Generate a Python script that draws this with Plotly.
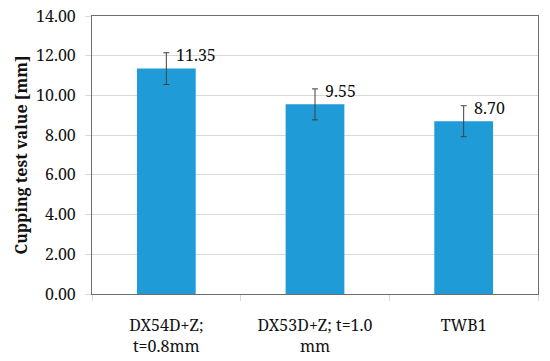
import plotly.graph_objects as go

categories = ["DX54D+Z;<br>t=0.8mm", "DX53D+Z; t=1.0<br>mm", "TWB1"]
values = [11.35, 9.55, 8.70]
errors = [0.80, 0.78, 0.78]
labels = ["11.35", "9.55", "8.70"]

font_family = "Noto Serif"
tfont = dict(family=font_family, size=16, color="#111111")

fig = go.Figure()
fig.add_trace(go.Bar(
    x=categories, y=values,
    marker=dict(color="#1f9bd8", line=dict(width=0)),
    error_y=dict(type="data", array=errors, visible=True, color="#404040", thickness=1, width=3),
    width=0.395,
))

for c, v, e, t in zip(categories, values, errors, labels):
    fig.add_annotation(x=c, y=v + e, text=t, showarrow=False, xanchor="left", yanchor="middle",
                       xshift=8, yshift=-2, font=tfont)

fig.update_layout(
    width=550, height=361,
    margin=dict(l=92, r=12, t=16, b=67, autoexpand=False),
    plot_bgcolor="white", paper_bgcolor="white",
    showlegend=False,
    font=tfont,
)
fig.update_yaxes(
    range=[0, 14], dtick=2, tickformat=".2f", tickfont=tfont, automargin=False,
    ticklabeloverflow="allow", ticklabelstandoff=6,
    showgrid=True, gridcolor="#d9d9d9", gridwidth=1,
    showline=True, linecolor="#6e6e6e", linewidth=1, mirror=True,
    ticks="outside", ticklen=6, tickcolor="#d9d9d9",
    zeroline=False,
    title=dict(text="<b>Cupping test value [mm]</b>", font=dict(family=font_family, size=16, color="#111111"), standoff=4),
)
fig.update_xaxes(
    tickfont=tfont, automargin=False,
    ticklabeloverflow="allow", ticklabelstandoff=17,
    showline=True, linecolor="#6e6e6e", linewidth=1, mirror=True,
    ticks="outside", ticklen=6, tickcolor="#d9d9d9", tickson="boundaries",
)

fig.write_html("out.html", config={"displayModeBar": False},
               post_script="document.body.style.margin='0';")
